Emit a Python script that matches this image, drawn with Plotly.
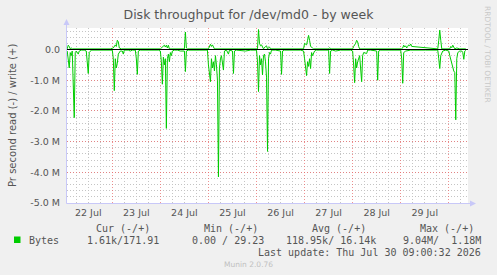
import datetime as dt
import plotly.graph_objects as go

# ---- data (30-minute sample index since 2026-07-22 00:00, value in MB/s) ----
read_idx = [3, 4, 5, 6, 7, 8, 10, 11, 12, 14, 15, 17, 20, 22, 24, 25, 27,
            48, 49, 50, 51, 52, 53, 54, 56, 58, 59, 60, 64, 66, 68, 71, 72, 73, 74, 76,
            94, 96, 97, 98, 99, 100, 101, 102, 103, 104, 105, 106, 107, 108, 110, 113, 116, 120, 121, 122, 124,
            143, 144, 146, 147, 148, 149, 150, 151, 152, 153, 154, 155, 156, 157, 159, 160, 162, 164, 165, 168, 169, 170, 172,
            181, 186, 192, 193, 194, 195, 196, 197, 198, 199, 200, 201, 202, 203, 204, 205, 206, 207, 211, 216, 217, 218, 220,
            236, 239, 240, 242, 243, 244, 245, 246, 247, 248, 250, 252, 264, 265, 266, 268, 271, 276,
            286, 288, 289, 290, 291, 292, 293, 295, 297, 298, 299, 302, 303, 306, 312, 313, 314, 316,
            336, 337, 338, 339, 341, 346, 361, 373, 374, 375, 376, 378, 381,
            384, 385, 386, 387, 388, 389, 390, 391, 392, 393, 395, 397, 398, 399, 400, 401]
read_val = [-0.05, -0.35, -0.6, -0.1, -0.2, -0.05, -2.22, -0.1, -0.05, -0.15, -0.05, -0.02, -0.02, -0.05, -0.78, -0.1, -0.02,
            -0.02, -0.3, -1.34, -0.3, -0.6, -0.45, -0.15, -0.05, -0.05, -0.15, -0.02, -0.02, -0.05, -0.02, -0.02, -0.3, -0.81, -0.05, -0.02,
            -0.02, -0.05, -0.4, -1.13, -0.25, -0.5, -0.3, -2.57, -0.3, -0.15, -0.4, -0.1, -0.2, -0.05, -0.02, -0.02, -0.05, -0.05, -0.72, -0.05, -0.02,
            -0.02, -0.5, -1.05, -0.3, -0.6, -0.4, -0.7, -0.2, -0.5, -1.0, -4.15, -0.6, -0.3, -0.2, -0.67, -0.05, -0.02, -0.15, -0.02, -0.05, -0.78, -0.05, -0.02,
            -0.05, -0.02, -0.02, -0.4, -1.37, -0.2, -0.5, -0.3, -0.83, -0.2, -0.15, -0.4, -0.9, -3.32, -0.3, -0.1, -0.15, -0.02, -0.02, -0.05, -0.81, -0.05, -0.02,
            -0.02, -0.05, -0.3, -0.85, -0.4, -0.55, -0.3, -0.62, -0.1, -0.2, -0.05, -0.02, -0.02, -0.78, -0.05, -0.02, -0.05, -0.02,
            -0.02, -0.05, -0.5, -1.08, -0.3, -0.6, -0.4, -0.2, -1.05, -0.2, -0.1, -0.13, -0.02, -0.02, -0.05, -1.0, -0.05, -0.02,
            -0.02, -0.3, -1.1, -0.1, -0.05, -0.02, -0.02, -0.02, -0.3, -0.62, -0.2, -0.05, -0.02,
            -0.05, -0.2, -0.35, -0.45, -0.55, -0.7, -0.75, -2.29, -0.3, -0.1, -0.05, -0.05, -0.1, -0.32, -0.05, -0.02]

write_idx = [3, 4, 5, 6, 7, 8, 46, 49, 51, 52, 53, 54, 55, 57,
             96, 97, 99, 100, 101, 102, 103, 104, 105, 120, 121, 122, 123,
             144, 146, 147, 148, 149, 150, 193, 194, 195, 196, 197, 198, 199, 201, 202, 203, 205, 206,
             239, 240, 242, 243, 244, 245, 246, 248, 249, 264, 265, 266,
             288, 289, 291, 292, 293, 294, 295, 337, 338, 339, 340, 341, 342, 343, 344, 345, 346, 347,
             373, 374, 375, 376, 377, 385, 386, 387, 388, 389, 390, 392, 393, 395, 401]
write_val = [0.02, 0.14, 0.1, 0.02, 0.05, 0.02, 0.02, 0.05, 0.15, 0.1, 0.3, 0.25, 0.05, 0.02,
             0.02, 0.05, 0.08, 0.14, 0.08, 0.14, 0.05, 0.14, 0.02, 0.02, 0.57, 0.05, 0.02,
             0.02, 0.17, 0.1, 0.15, 0.05, 0.02, 0.02, 0.65, 0.2, 0.12, 0.15, 0.05, 0.02, 0.1, 0.12, 0.02, 0.08, 0.02,
             0.02, 0.2, 0.15, 0.3, 0.46, 0.3, 0.1, 0.05, 0.02, 0.02, 0.06, 0.02,
             0.02, 0.1, 0.2, 0.3, 0.25, 0.1, 0.02, 0.02, 0.05, 0.14, 0.08, 0.12, 0.05, 0.1, 0.15, 0.12, 0.18, 0.1,
             0.02, 0.3, 0.63, 0.3, 0.02, 0.02, 0.1, 0.06, 0.14, 0.08, 0.02, 0.05, 0.04, 0.02, 0.02]

ytick_vals = [0.0, -1.0, -2.0, -3.0, -4.0, -5.0]
ytick_text = ["0.0", "-1.0 M", "-2.0 M", "-3.0 M", "-4.0 M", "-5.0 M"]

legend_headers = ["Cur (-/+)", "Min (-/+)", "Avg (-/+)", "Max (-/+)"]
legend_values = ["1.61k/171.91", "0.00 / 29.23", "118.95k/ 16.14k", "9.04M/  1.18M"]
series_name = "Bytes"
last_update = "Last update: Thu Jul 30 09:00:32 2026"

base = dt.datetime(2026, 7, 22, 0, 0)
step = dt.timedelta(minutes=30)
read_t = [base + i * step for i in read_idx]
write_t = [base + i * step for i in write_idx]
read_b = [v * 1e6 for v in read_val]
write_b = [v * 1e6 for v in write_val]

W, H = 497, 275
L, R, T, B = 67, 29, 28, 72
PW, PH = W - L - R, H - T - B


def px(x):
    return (x - L) / PW


def py(y):
    return (H - B - y) / PH


GREEN = "#00CC00"
TXT = "#555555"
FONT = "DejaVu Sans"
MONO = "DejaVu Sans Mono"
MAJ = "rgba(235,110,110,0.75)"
MIN = "#C4C4C4"
DOTS = "1px,2px"

fig = go.Figure()
fig.add_trace(go.Scatter(x=read_t, y=read_b, mode="lines",
                         line=dict(color=GREEN, width=1), hoverinfo="skip"))
fig.add_trace(go.Scatter(x=write_t, y=write_b, mode="lines",
                         line=dict(color=GREEN, width=1), hoverinfo="skip"))

fig.update_layout(
    width=W, height=H,
    margin=dict(l=L, r=R, t=T, b=B),
    paper_bgcolor="#F0F0F0", plot_bgcolor="#FFFFFF",
    showlegend=False,
    font=dict(family=FONT, size=9.5, color=TXT),
    title=dict(text="Disk throughput for /dev/md0 - by week", x=0.5, xanchor="center",
               y=1 - 15 / H, yanchor="middle", font=dict(family=FONT, size=12.5, color=TXT)),
    xaxis=dict(
        range=[dt.datetime(2026, 7, 22, 1, 23), dt.datetime(2026, 7, 30, 9, 36)],
        type="date", tick0="2026-07-22", dtick=86400000, tickformat="%d %b",
        ticklabelmode="period", showgrid=True, gridcolor=MAJ,
        griddash=DOTS, gridwidth=1, zeroline=False, showline=False, ticks="",
        ticklabelstandoff=2, tickfont=dict(family=FONT, size=9.5, color=TXT),
        minor=dict(dtick=6 * 3600000, tick0="2026-07-22", showgrid=True,
                   gridcolor=MIN, griddash=DOTS, gridwidth=1),
        fixedrange=True,
    ),
    yaxis=dict(
        range=[-5.0e6, 0.7003e6], tickvals=[v * 1e6 for v in ytick_vals], ticktext=ytick_text,
        showgrid=True, gridcolor=MAJ, griddash=DOTS, gridwidth=1,
        zeroline=False, showline=False, ticks="", ticklabelstandoff=6,
        tickfont=dict(family=FONT, size=9.5, color=TXT),
        minor=dict(dtick=2e5, tick0=0, showgrid=True, gridcolor=MIN,
                   griddash=DOTS, gridwidth=1),
        fixedrange=True,
    ),
)

AX = "#C8C8F8"
shapes = [
    # zero rule
    dict(type="line", xref="paper", yref="y", x0=0, x1=1, y0=0, y1=0,
         line=dict(color="black", width=1), layer="above"),
    # axis lines
    dict(type="line", xref="paper", yref="paper", x0=px(66.5), x1=px(66.5), y0=py(203.5), y1=py(22),
         line=dict(color=AX, width=1), layer="above"),
    dict(type="line", xref="paper", yref="paper", x0=px(66.5), x1=px(472), y0=py(203.5), y1=py(203.5),
         line=dict(color=AX, width=1), layer="above"),
    # arrowheads
    dict(type="path", xref="paper", yref="paper",
         path=f"M {px(63.5)} {py(25)} L {px(69.5)} {py(25)} L {px(66.5)} {py(19)} Z",
         fillcolor=AX, line=dict(color=AX, width=0), layer="above"),
    dict(type="path", xref="paper", yref="paper",
         path=f"M {px(470)} {py(200.5)} L {px(470)} {py(206.5)} L {px(476)} {py(203.5)} Z",
         fillcolor=AX, line=dict(color=AX, width=0), layer="above"),
    # legend swatch
    dict(type="rect", xref="paper", yref="paper", x0=px(14), x1=px(20.5), y0=py(243), y1=py(236.5),
         fillcolor=GREEN, line=dict(width=0)),
]
fig.update_layout(shapes=shapes)

ann = []
ann.append(dict(text="Pr second read (-) / write (+)", x=px(12), y=py(116), xref="paper", yref="paper",
                textangle=-90, showarrow=False, xanchor="center", yanchor="middle",
                font=dict(family=FONT, size=10, color=TXT)))
ann.append(dict(text="RRDTOOL / TOBI OETIKER", x=px(488), y=py(54), xref="paper", yref="paper",
                textangle=90, showarrow=False, xanchor="center", yanchor="middle",
                font=dict(family=FONT, size=7.5, color="#C8C8C8")))
header_right = [152, 260, 368, 476]
value_right = [161, 266, 377.5, 483]
for t, xr in zip(legend_headers, header_right):
    ann.append(dict(text=t, x=px(xr), y=py(228), xref="paper", yref="paper", showarrow=False,
                    xanchor="right", yanchor="middle", font=dict(family=MONO, size=10, color=TXT)))
for t, xr in zip(legend_values, value_right):
    ann.append(dict(text=t, x=px(xr), y=py(240), xref="paper", yref="paper", showarrow=False,
                    xanchor="right", yanchor="middle", font=dict(family=MONO, size=10, color=TXT)))
ann.append(dict(text=series_name, x=px(26.5), y=py(240), xref="paper", yref="paper", showarrow=False,
                xanchor="left", yanchor="middle", font=dict(family=MONO, size=10, color=TXT)))
ann.append(dict(text=last_update, x=px(483), y=py(252), xref="paper", yref="paper", showarrow=False,
                xanchor="right", yanchor="middle", font=dict(family=MONO, size=10, color=TXT)))
ann.append(dict(text="Munin 2.0.76", x=px(248), y=py(264.5), xref="paper", yref="paper", showarrow=False,
                xanchor="center", yanchor="middle", font=dict(family=FONT, size=7.5, color="#C0C0C0")))
fig.update_layout(annotations=ann)

fig.write_html("out.html", config={"displayModeBar": False})
